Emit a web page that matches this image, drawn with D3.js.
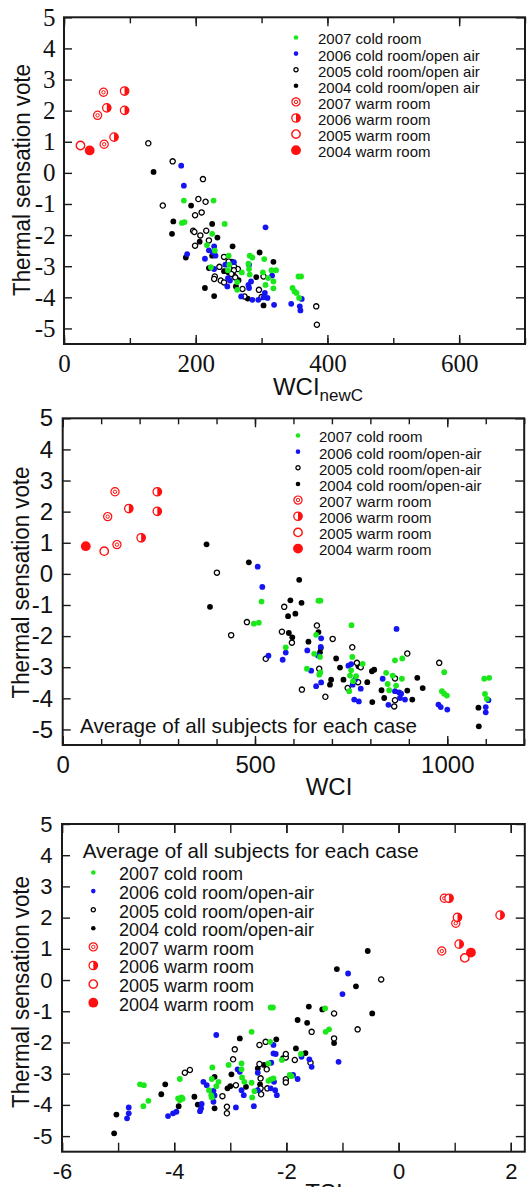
<html>
<meta charset="utf-8">

<head>
    <script src="https://d3js.org/d3.v7.min.js"></script>
    <style>
        body {
            margin: 0;
            background: #fff;
        }

        * {
            font-family: "Liberation Sans", Arial, sans-serif
        }

        .frame {
            fill: none;
            stroke: #1a1a1a;
            stroke-width: 2;
        }

        .tick line {
            stroke: #1a1a1a;
            stroke-width: 1.4;
        }

        .domain {
            display: none;
        }
    </style>
</head>

<body>
    <svg id='chart' width="528" height="1187"></svg>

    <script>
        // ---- panel 1: WCI_newC ----
        const green1 = [[182, -0.89], [227, -0.89], [179, -1.61], [183, -1.58], [244, -1.64], [225, -1.96], [217, -2.32], [229, -2.5], [223, -3.03], [250, -2.66], [249, -3.13], [251, -2.95], [282, -2.66], [286, -2.72], [280, -2.92], [304, -2.77], [281, -3.09], [270, -3.2], [282, -3.27], [302, -3.2], [315, -3.13], [322, -3.13], [306, -3.6], [318, -3.49], [318, -3.71], [310, -3.38], [263, -3.51], [263, -3.76], [356, -3.33], [360, -3.33], [347, -3.7], [350, -3.81], [353, -3.86], [357, -4.02]];
        const blue1 = [[178, 0.23], [182, -0.41], [306, -1.75], [187, -2.61], [214, -2.76], [228, -2.36], [220, -2.49], [230, -2.66], [228, -3.09], [245, -2.95], [258, -2.87], [249, -3.38], [248, -3.65], [281, -2.95], [284, -3.49], [281, -3.7], [269, -3.97], [286, -4.08], [295, -4.08], [305, -3.86], [309, -4.02], [316, -3.3], [319, -4.24], [345, -4.21], [358, -4.29], [359, -4.42], [361, -4.05], [252, -3.46], [226, -2.56], [303, -4.0], [280, -3.6]];
        const open1 = [[128, 0.95], [165, 0.37], [211, -0.2], [150, -1.05], [204, -0.84], [215, -0.93], [199, -1.36], [209, -1.27], [196, -1.86], [198, -1.9], [216, -1.86], [207, -2.01], [220, -2.17], [199, -2.34], [243, -2.7], [236, -3.02], [264, -3.09], [258, -3.0], [229, -3.33], [228, -3.41], [238, -3.46], [243, -3.52], [260, -3.36], [258, -3.13], [271, -3.73], [274, -3.97], [296, -3.76], [300, -3.99], [303, -3.33], [383, -4.29], [384, -4.88], [250, -2.85], [254, -3.25]];
        const black1 = [[136, 0.03], [193, -1.05], [166, -1.56], [164, -1.96], [225, -1.64], [233, -2.08], [206, -2.21], [185, -2.72], [256, -2.36], [297, -2.56], [318, -2.86], [214, -3.7], [228, -3.96], [243, -3.16], [255, -2.85], [292, -3.35], [303, -4.26], [225, -2.66], [220, -3.06], [261, -3.65], [279, -4.04], [258, -3.3], [250, -3.2], [265, -3.45]];
        const bull1 = [[60, 2.59], [51, 1.85], [61, 0.92]];
        const half1 = [[92, 2.63], [65, 2.09], [92, 2.01], [76, 1.15]];
        const ring1 = [[25, 0.88]];
        const dot1 = [[39, 0.72]];

        // ---- panel 2: WCI ----
        const green2 = [[497, -1.6], [510, -1.57], [517, -0.89], [665, -0.86], [670, -0.86], [580, -2.36], [659, -1.96], [654, -2.57], [669, -2.67], [635, -3.05], [667, -3.24], [751, -1.65], [753, -2.67], [780, -2.89], [747, -3.27], [763, -3.29], [745, -3.77], [750, -3.1], [841, -3.18], [845, -3.54], [849, -3.74], [864, -2.78], [883, -2.72], [858, -3.27], [882, -3.37], [867, -3.59], [992, -3.16], [986, -3.77], [992, -3.85], [999, -3.91], [1096, -3.37], [1109, -3.34], [1098, -3.86], [1103, -4.02], [670, -3.17], [755, -3.45]];
        const blue2 = [[507, 0.23], [519, -0.42], [580, -2.53], [535, -2.63], [572, -2.76], [636, -2.46], [672, -2.07], [671, -2.35], [646, -3.11], [659, -3.61], [672, -3.49], [743, -2.95], [754, -3.56], [758, -4.04], [775, -3.69], [832, -3.37], [847, -4.21], [868, -1.77], [864, -3.77], [875, -3.81], [877, -3.99], [890, -4.04], [977, -4.2], [983, -4.28], [1000, -4.36], [1107, -4.06], [1100, -4.28], [1100, -4.45], [750, -2.9], [760, -3.4], [664, -2.62], [880, -3.85], [770, -4.1]];
        const open2 = [[401, 0.04], [479, -1.55], [438, -1.97], [576, -1.06], [570, -1.86], [596, -2.21], [528, -2.73], [661, -1.66], [702, -2.09], [667, -3.05], [622, -3.72], [683, -3.95], [753, -2.36], [765, -2.86], [741, -3.67], [864, -3.36], [896, -2.56], [864, -4.06], [862, -4.26], [979, -2.86], [775, -3.0], [768, -3.48]];
        const black2 = [[374, 0.95], [484, 0.37], [383, -1.06], [615, -0.19], [592, -0.85], [621, -0.93], [605, -1.28], [586, -1.36], [588, -1.9], [597, -2.04], [639, -2.18], [665, -1.87], [669, -2.52], [671, -2.38], [711, -2.72], [721, -3.01], [698, -3.4], [695, -3.56], [730, -3.4], [769, -2.97], [792, -3.48], [804, -3.13], [810, -3.08], [805, -4.12], [829, -3.74], [836, -3.99], [896, -3.75], [909, -4.04], [922, -3.34], [936, -3.67], [1081, -4.3], [1082, -4.9]];
        const bull2 = [[136, 2.64], [117, 1.84], [141, 0.94]];
        const half2 = [[246, 2.64], [172, 2.10], [246, 2.01], [204, 1.16]];
        const ring2 = [[108, 0.73]];
        const dot2 = [[60, 0.89]];

        // ---- panel 3: TSI ----
        const green3 = [[-4.61, -3.34], [-4.54, -3.37], [-4.55, -4.04], [-4.46, -3.87], [-3.9, -3.17], [-3.93, -3.79], [-3.9, -3.85], [-3.87, -3.76], [-3.85, -3.8], [-3.38, -3.53], [-3.34, -3.69], [-3.33, -3.76], [-3.33, -3.17], [-3.32, -2.8], [-3.25, -3.4], [-3.21, -3.26], [-3.03, -2.72], [-2.8, -2.67], [-2.8, -2.86], [-2.79, -3.12], [-2.75, -3.26], [-2.62, -1.66], [-2.61, -3.76], [-2.62, -3.29], [-2.57, -3.56], [-2.29, -1.98], [-2.32, -2.67], [-2.32, -3.23], [-2.28, -3.18], [-2.23, -3.15], [-2.28, -0.88], [-2.24, -0.88], [-2.08, -2.56], [-1.94, -3.04], [-1.91, -3.08], [-1.74, -2.37], [-1.31, -0.91], [-1.3, -1.66], [-1.24, -1.58]];
        const blue3 = [[-4.81, -4.08], [-4.81, -4.27], [-4.84, -4.43], [-4.11, -4.36], [-4.02, -4.27], [-3.96, -4.22], [-3.51, -3.97], [-3.52, -4.11], [-3.54, -4.2], [-3.48, -3.26], [-3.42, -3.37], [-3.25, -1.76], [-3.3, -3.55], [-3.28, -3.7], [-3.3, -3.9], [-2.9, -4.08], [-2.87, -2.86], [-2.83, -2.94], [-2.8, -3.53], [-2.76, -3.69], [-2.58, -4.04], [-2.51, -2.97], [-2.51, -3.53], [-2.23, -2.08], [-2.23, -2.35], [-2.19, -2.37], [-2.27, -2.65], [-2.22, -3.26], [-2.28, -3.47], [-2.2, -3.53], [-2.17, -3.69], [-1.88, -3.04], [-1.8, -3.17], [-1.73, -2.46], [-1.59, -2.54], [-1.55, -2.78], [-1.07, -2.62], [-1.0, -0.45], [-0.9, 0.21]];
        const open3 = [[-3.81, -2.97], [-3.72, -2.88], [-3.14, -3.72], [-3.06, -4.06], [-3.06, -4.27], [-2.95, -2.54], [-2.92, -2.22], [-2.9, -3.37], [-2.48, -2.08], [-2.37, -1.98], [-2.35, -2.86], [-2.48, -2.69], [-2.46, -3.15], [-2.46, -3.47], [-2.45, -3.66], [-2.34, -3.47], [-2.01, -2.48], [-2.01, -2.37], [-2.01, -3.18], [-2.01, -3.28], [-1.85, -2.56], [-1.57, -2.65], [-1.55, -1.66], [-1.15, -1.07], [-1.15, -1.87], [-0.73, -1.58], [-0.31, 0.02]];
        const black3 = [[-5.07, -4.91], [-5.03, -4.31], [-4.16, -3.34], [-4.23, -3.66], [-3.92, -4.04], [-3.64, -3.74], [-3.58, -3.99], [-3.28, -4.11], [-3.28, -3.1], [-2.98, -3.02], [-2.83, -1.87], [-3.05, -3.47], [-3.0, -3.4], [-2.72, -3.42], [-2.51, -2.83], [-2.4, -2.72], [-2.47, -3.34], [-2.18, -1.9], [-2.06, -2.5], [-1.83, -2.19], [-1.8, -1.28], [-1.63, -1.37], [-1.66, -2.34], [-1.6, -0.85], [-1.36, -0.94], [-1.15, -2.02], [-0.76, -0.2], [-0.47, -1.07], [-0.55, 0.93], [-1.1, 0.35]];
        const bull3 = [[0.815, 2.62], [1.02, 1.82], [0.77, 0.93]];
        const half3 = [[0.9, 2.62], [1.05, 2.01], [1.81, 2.08], [1.08, 1.15]];
        const ring3 = [[1.18, 0.71]];
        const dot3 = [[1.29, 0.88]];

        const yTicks = [-5, -4, -3, -2, -1, 0, 1, 2, 3, 4, 5];
        const legendWithSpace = ['2007 cold room', '2006 cold room/open air', '2005 cold room/open air', '2004 cold room/open air',
            '2007 warm room', '2006 warm room', '2005 warm room', '2004 warm room'];
        const legendWithDash = ['2007 cold room', '2006 cold room/open-air', '2005 cold room/open-air', '2004 cold room/open-air',
            '2007 warm room', '2006 warm room', '2005 warm room', '2004 warm room'];
        const symbolOrder = ['green', 'blue', 'open', 'black', 'bull', 'half', 'ring', 'dot'];

        const GREEN = '#1ae81a', BLUE = '#1515f2', RED = '#ff1010';
        const SANS = '"Liberation Sans", Arial, sans-serif';
        const SERIF = '"Liberation Serif", "Times New Roman", serif';

        const panels = [
            {
                left: 64, right: 525, top: 17.3, bottom: 344, xDomain: [0, 700],
                minor: d3.range(0, 701, 100), major: [0, 200, 400, 600], tickFamily: SERIF,
                tickFont: 25, xPad: 10, yPad: 8.5, majorLen: 9, minorLen: 6,
                series: { black: black1, open: open1, blue: blue1, green: green1, bull: bull1, half: half1, ring: ring1, dot: dot1 },
                legend: { labels: legendWithSpace, mx: 296, tx: 318, y0: 39, step: 16.1, font: 15 },
                ytitle: { x: 29.5, y: 180 },
                xtitle: { main: 'WCI', sub: 'newC', x: 318, y: 395 }
            },
            {
                left: 62.7, right: 524.2, top: 418.3, bottom: 745, xDomain: [0, 1200],
                minor: d3.range(0, 1201, 100), major: [0, 500, 1000], tickFamily: SANS,
                tickFont: 24, xPad: 11, yPad: 9.5, majorLen: 9, minorLen: 6,
                series: { black: black2, open: open2, blue: blue2, green: green2, bull: bull2, half: half2, ring: ring2, dot: dot2 },
                legend: { labels: legendWithDash, mx: 298, tx: 319, y0: 437, step: 16.15, font: 15 },
                note: { x: 80, y: 733, len: 337 },
                ytitle: { x: 29, y: 582.5 },
                xtitle: { main: 'WCI', x: 329, y: 795 }
            },
            {
                left: 62, right: 524.8, top: 824, bottom: 1151.7, xDomain: [-6, 2.25],
                minor: d3.range(-6, 2.1, 1), major: [-6, -4, -2, 0, 2], tickFamily: SANS,
                tickFont: 22, xPad: 12, yPad: 9.5, majorLen: 9, minorLen: 9,
                series: { black: black3, open: open3, blue: blue3, green: green3, bull: bull3, half: half3, ring: ring3, dot: dot3 },
                legend: { labels: legendWithDash, mx: 93.3, tx: 119, y0: 874, step: 18.6, font: 18 },
                note: { x: 82.7, y: 857.7, len: 336 },
                ytitle: { x: 29, y: 992 },
                xtitle: { main: 'TSI', x: 324, y: 1201 }
            }
        ];

        const svg = d3.select('svg#chart');
        svg.append('rect').attr('width', 528).attr('height', 1187).attr('fill', '#fff');

        function drawMarker(g, type, small) {
            if (type === 'green' || type === 'blue' || type === 'black') {
                g.append('circle').attr('r', small ? 2.3 : 2.9)
                    .attr('fill', type === 'green' ? GREEN : type === 'blue' ? BLUE : '#000');
            } else if (type === 'open') {
                g.append('circle').attr('r', small ? 2.1 : 2.6)
                    .attr('fill', '#fff').attr('stroke', '#000').attr('stroke-width', 1.3);
            } else if (type === 'bull') {
                g.append('circle').attr('r', 4.1).attr('fill', '#fff').attr('stroke', RED).attr('stroke-width', 1.2);
                g.append('circle').attr('r', 1.7).attr('fill', 'none').attr('stroke', RED).attr('stroke-width', 1);
            } else if (type === 'half') {
                const r = 4.2;
                g.append('circle').attr('r', r).attr('fill', '#fff').attr('stroke', RED).attr('stroke-width', 1.3);
                g.append('path').attr('d', `M0,${-r}A${r},${r} 0 0 1 0,${r}Z`).attr('fill', RED);
            } else if (type === 'ring') {
                g.append('circle').attr('r', 4.2).attr('fill', '#fff').attr('stroke', RED).attr('stroke-width', 1.4);
            } else if (type === 'dot') {
                g.append('circle').attr('r', 4.9).attr('fill', RED);
            }
        }

        panels.forEach(p => {
            const x = d3.scaleLinear().domain(p.xDomain).range([p.left, p.right]);
            const y = d3.scaleLinear().domain([-5.5, 5]).range([p.bottom, p.top]);
            const fmt = d => String(d);

            const axes = svg.append('g');

            // minor ticks (inward) on bottom and top
            axes.append('g').attr('transform', `translate(0,${p.bottom})`)
                .call(d3.axisBottom(x).tickValues(p.minor).tickSize(-p.minorLen).tickFormat(''));
            axes.append('g').attr('transform', `translate(0,${p.top})`)
                .call(d3.axisTop(x).tickValues(p.minor).tickSize(-p.minorLen).tickFormat(''));
            axes.append('g').attr('transform', `translate(0,${p.top})`)
                .call(d3.axisTop(x).tickValues(p.major).tickSize(-p.majorLen).tickFormat(''));

            // labelled bottom axis
            axes.append('g').attr('transform', `translate(0,${p.bottom})`)
                .call(d3.axisBottom(x).tickValues(p.major).tickSize(-p.majorLen).tickPadding(p.xPad).tickFormat(fmt))
                .selectAll('text').attr('font-size', p.tickFont).attr('fill', '#111')
                .style('font-family', p.tickFamily);

            // left axis with labels, right axis ticks only
            axes.append('g').attr('transform', `translate(${p.left},0)`)
                .call(d3.axisLeft(y).tickValues(yTicks).tickSize(-8).tickPadding(p.yPad).tickFormat(fmt))
                .selectAll('text').attr('font-size', p.tickFont).attr('fill', '#111')
                .style('font-family', p.tickFamily);
            axes.append('g').attr('transform', `translate(${p.right},0)`)
                .call(d3.axisRight(y).tickValues(yTicks).tickSize(-9).tickFormat(''));

            // points
            const pts = svg.append('g');
            ['black', 'open', 'blue', 'green', 'bull', 'half', 'ring', 'dot'].forEach(type => {
                pts.selectAll(null).data(p.series[type]).join('g')
                    .attr('transform', d => `translate(${x(d[0])},${y(d[1])})`)
                    .each(function () { drawMarker(d3.select(this), type, false); });
            });

            svg.append('rect').attr('class', 'frame')
                .attr('x', p.left).attr('y', p.top)
                .attr('width', p.right - p.left).attr('height', p.bottom - p.top);

            // legend
            const lg = svg.append('g');
            p.legend.labels.forEach((label, i) => {
                const cy = p.legend.y0 + i * p.legend.step;
                const m = lg.append('g').attr('transform', `translate(${p.legend.mx},${cy - 1.5})`);
                drawMarker(m, symbolOrder[i], i < 4);
                lg.append('text').text(label)
                    .attr('x', p.legend.tx).attr('y', cy + p.legend.font * 0.36)
                    .attr('font-size', p.legend.font).attr('fill', '#111');
            });

            if (p.note) {
                svg.append('text').text('Average of all subjects for each case')
                    .attr('x', p.note.x).attr('y', p.note.y)
                    .attr('font-size', 21).attr('fill', '#111')
                    .attr('textLength', p.note.len).attr('lengthAdjust', 'spacingAndGlyphs');
            }

            // axis titles
            svg.append('text').text('Thermal sensation vote')
                .attr('transform', `translate(${p.ytitle.x},${p.ytitle.y}) rotate(-90)`)
                .attr('text-anchor', 'middle')
                .attr('font-size', 23).attr('fill', '#111')
                .attr('textLength', 232).attr('lengthAdjust', 'spacingAndGlyphs');

            const xt = svg.append('text')
                .attr('x', p.xtitle.x).attr('y', p.xtitle.y)
                .attr('text-anchor', 'middle').attr('fill', '#111');
            xt.append('tspan').text(p.xtitle.main).attr('font-size', 24);
            if (p.xtitle.sub) {
                xt.append('tspan').text(p.xtitle.sub).attr('font-size', 17).attr('dy', 6);
            }
        });
    </script>
</body>

</html>
